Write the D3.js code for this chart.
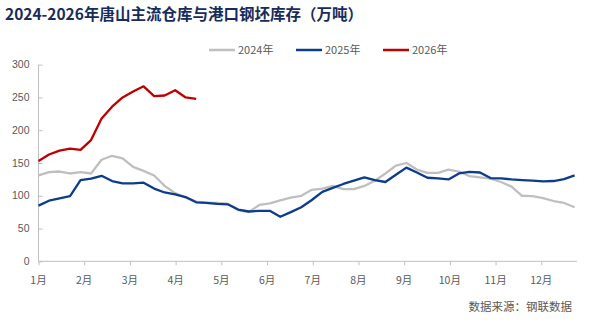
<!DOCTYPE html>
<html>
<head>
<meta charset="utf-8">
<script src="https://cdn.jsdelivr.net/npm/d3@7"></script>
<style>
  html, body { margin: 0; padding: 0; background: #ffffff; }
  svg { display: block; }
</style>
</head>
<body>
<div id="chart"></div>
<script>
// ---------- data ----------
const title = "2024-2026年唐山主流仓库与港口钢坯库存（万吨）";
const source = "数据来源：钢联数据";
const monthLabels = ["1月","2月","3月","4月","5月","6月","7月","8月","9月","10月","11月","12月"];
const yTicks = [0, 50, 100, 150, 200, 250, 300];
const seriesNames = ["2024年", "2025年", "2026年"];

// weekly values (week index 0 = first week of January)
const values2024 = [131,136,137,134,136,134,155,161,157,144,138,131,115,104,97,91,
  89,89,88,78,75,86,88.5,93,97,100,109,111,115,110,110,115,123,134,146,150,140,135,
  135,140,137,130,128,126,121,114,100,99.5,96.5,92,89,82.5];
const values2025 = [85,92.5,96,99.5,124,126,130.5,122.5,119,119,120,111,105,102,98,90,
  89,87.5,87,79,76,77,77,68,75,82.5,93.5,106,112,118,123,128,124,121,132,143,135.5,
  127.5,126.5,125,134,136.5,135.5,127,126.5,125,124,123,122,122.5,125.5,131];
const values2026 = [153,163,169,172,170,185,218,236,250,259,267,252,253,261,250,248];

const colors = ["#bfbfbf", "#0c3c8c", "#c00000"];

// ---------- layout ----------
const W = 594, H = 328;
const svg = d3.select("#chart").append("svg")
  .attr("width", W).attr("height", H)
  .style("font-family", "'Noto Sans CJK SC', 'Noto Sans', sans-serif");
svg.append("rect").attr("width", W).attr("height", H).attr("fill", "#ffffff");

const WEEKS_PER_MONTH = 52.18 / 12;
const x = d3.scaleLinear().domain([0, 12]).range([38.5, 587]);
const y = d3.scaleLinear().domain([0, 300]).range([261.3, 64.7]);
const axisRight = 577;

// title
svg.append("text").attr("x", 5).attr("y", 20)
  .attr("font-size", 15.5).attr("font-weight", 700)
  .attr("fill", "#172c5a").text(title);

// y axis
const yAxis = svg.append("g").attr("transform", `translate(${x(0)},0)`)
  .call(d3.axisRight(y).tickValues(yTicks).tickSize(4).tickFormat(""));
yAxis.select(".domain").attr("stroke", "#bfbfbf").attr("d", `M0,${y(300)}V${y(0)}`);
yAxis.selectAll(".tick line").attr("stroke", "#bfbfbf");
svg.append("g").selectAll("text").data(yTicks).join("text")
  .attr("x", 29.5).attr("y", d => y(d)).attr("dy", "0.35em")
  .attr("text-anchor", "end").attr("font-size", 10.5)
  .attr("font-family", "'Liberation Sans', Arial, sans-serif")
  .attr("fill", "#595959").text(d => d);

// x axis
const monthIdx = d3.range(12);
const xAxis = svg.append("g").attr("transform", `translate(0,${y(0)})`)
  .call(d3.axisBottom(x).tickValues(monthIdx).tickSize(4).tickFormat(""));
xAxis.select(".domain").attr("stroke", "#bfbfbf").attr("d", `M${x(0)},0H${axisRight}`);
xAxis.selectAll(".tick line").attr("stroke", "#bfbfbf");
svg.append("g").selectAll("text").data(monthIdx).join("text")
  .attr("x", d => x(d)).attr("y", 280).attr("dy", "0.35em")
  .attr("text-anchor", "middle").attr("font-size", 10.5)
  .attr("fill", "#595959").text(d => monthLabels[d]);

// lines
const line = d3.line()
  .x((d, i) => x(i / WEEKS_PER_MONTH))
  .y(d => y(d));
[values2024, values2025, values2026].forEach((vals, k) => {
  svg.append("path").datum(vals)
    .attr("fill", "none").attr("stroke", colors[k])
    .attr("stroke-width", 2.3).attr("stroke-linejoin", "round")
    .attr("d", line);
});

// legend
const legendX = [209, 296, 383];
const legend = svg.append("g");
seriesNames.forEach((name, k) => {
  legend.append("line").attr("x1", legendX[k]).attr("x2", legendX[k] + 26)
    .attr("y1", 50).attr("y2", 50)
    .attr("stroke", colors[k]).attr("stroke-width", 2.5);
  legend.append("text").attr("x", legendX[k] + 29).attr("y", 50).attr("dy", "0.35em")
    .attr("font-size", 11).attr("fill", "#595959").text(name);
});

// source
svg.append("text").attr("x", 572).attr("y", 306.5).attr("dy", "0.35em")
  .attr("text-anchor", "end").attr("font-size", 11.5)
  .attr("fill", "#595959").text(source);
</script>
</body>
</html>
